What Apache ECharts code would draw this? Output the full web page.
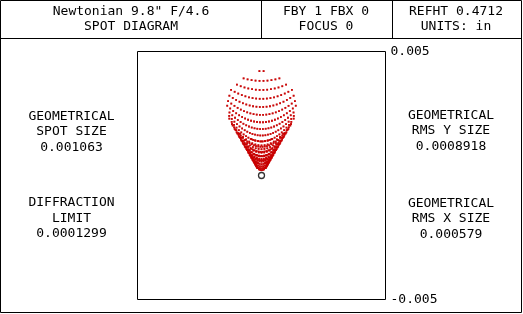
<!DOCTYPE html>
<html>
<head>
<meta charset="utf-8">
<script src="https://cdn.jsdelivr.net/npm/echarts@6/dist/echarts.min.js"></script>
<style>html,body{margin:0;padding:0;background:#fff}#c{width:523px;height:314px}</style>
</head>
<body>
<div id="c"></div>
<script>
// ---- data ----
const axisMin = -0.005, axisMax = 0.005;
const axisTicks = [-0.005, 0.005];
// normalized pupil sample coordinates of the traced ray grid
const pupilX = [-0.99,-0.93,-0.87,-0.81,-0.75,-0.69,-0.63,-0.57,-0.51,-0.45,-0.39,-0.33,-0.27,-0.21,-0.15,-0.09,-0.03,
                 0.03,0.09,0.15,0.21,0.27,0.33,0.39,0.45,0.51,0.57,0.63,0.69,0.75,0.81,0.87,0.93,0.99];
const pupilY = [-1.000,-0.952,-0.905,-0.857,-0.810,-0.762,-0.714,-0.667,-0.619,-0.571,-0.524,-0.476,-0.429,-0.381,-0.333,-0.286,-0.238,-0.190,-0.143,-0.095,-0.048,
                 0.000,0.048,0.095,0.143,0.190,0.238,0.286,0.333,0.381,0.429,0.476,0.524,0.571,0.619,0.667,0.714,0.762,0.810,0.857,0.905,0.952,1.000];
const comaCoef = 0.001403;      // sagittal coma (in), read from the spot extent
const obstruction = 0.36;       // central obstruction ratio
const chiefRay = [[0, 0]];
const headerTexts = ['Newtonian 9.8" F/4.6\nSPOT DIAGRAM', 'FBY 1 FBX 0\nFOCUS 0', 'REFHT 0.4712\nUNITS: in'];
const leftTexts = ['GEOMETRICAL\nSPOT SIZE\n0.001063', 'DIFFRACTION\nLIMIT\n0.0001299'];
const rightTexts = ['GEOMETRICAL\nRMS Y SIZE\n0.0008918', 'GEOMETRICAL\nRMS X SIZE\n0.000579'];

// ray intercepts (third-order coma) of every pupil sample
const spots = [];
pupilY.forEach(function (py) {
  pupilX.forEach(function (px) {
    const r2 = px * px + py * py;
    if (r2 > 1.001 || r2 < obstruction * obstruction) return;
    spots.push([2 * comaCoef * px * py, comaCoef * (3 * py * py + px * px)]);
  });
});

const FONT = '13px "DejaVu Sans Mono"';
function txt(t, x, y, lh) {
  return { type: 'text', x: x, y: y, silent: true,
    style: { text: t, font: FONT, fill: '#000', textAlign: 'center', textVerticalAlign: 'middle', lineHeight: lh } };
}
const chart = echarts.init(document.getElementById('c'), null, { renderer: 'canvas' });
chart.setOption({
  animation: false,
  backgroundColor: '#fff',
  grid: { left: 137.5, top: 51.5, width: 248, height: 248, show: true, borderColor: '#000', borderWidth: 1, backgroundColor: 'transparent' },
  xAxis: { type: 'value', min: axisMin, max: axisMax, show: false },
  yAxis: { type: 'value', min: axisMin, max: axisMax, interval: 0.005, position: 'right',
    axisLine: { show: false }, axisTick: { show: false }, splitLine: { show: false },
    axisLabel: { margin: 5, color: '#000', fontFamily: 'DejaVu Sans Mono', fontSize: 13,
      formatter: function (v) { return axisTicks.indexOf(Math.round(v * 1000) / 1000) >= 0 ? v.toFixed(3) : ''; } } },
  series: [
    { type: 'scatter', data: spots, symbol: 'rect', symbolSize: 1.8, itemStyle: { color: '#c80000' }, silent: true },
    { type: 'scatter', data: chiefRay, symbol: 'circle', symbolSize: 6, itemStyle: { color: '#fff', borderColor: '#000', borderWidth: 1.3 }, silent: true, z: 5 }
  ],
  graphic: [
    { type: 'rect', shape: { x: 0.5, y: 0.5, width: 521, height: 312 }, style: { fill: null, stroke: '#000', lineWidth: 1 }, silent: true },
    { type: 'line', shape: { x1: 0, y1: 38.5, x2: 522, y2: 38.5 }, style: { stroke: '#000', lineWidth: 1 }, silent: true },
    { type: 'line', shape: { x1: 261.5, y1: 0, x2: 261.5, y2: 38.5 }, style: { stroke: '#000', lineWidth: 1 }, silent: true },
    { type: 'line', shape: { x1: 392.5, y1: 0, x2: 392.5, y2: 38.5 }, style: { stroke: '#000', lineWidth: 1 }, silent: true },
    txt(headerTexts[0], 131, 19, 14.5),
    txt(headerTexts[1], 326, 19, 14.5),
    txt(headerTexts[2], 456, 19, 14.5),
    txt(leftTexts[0], 71.5, 132, 15.5),
    txt(leftTexts[1], 71.5, 218.5, 15.5),
    txt(rightTexts[0], 451, 131, 15.5),
    txt(rightTexts[1], 451, 219, 15.5)
  ]
});
</script>
</body>
</html>
